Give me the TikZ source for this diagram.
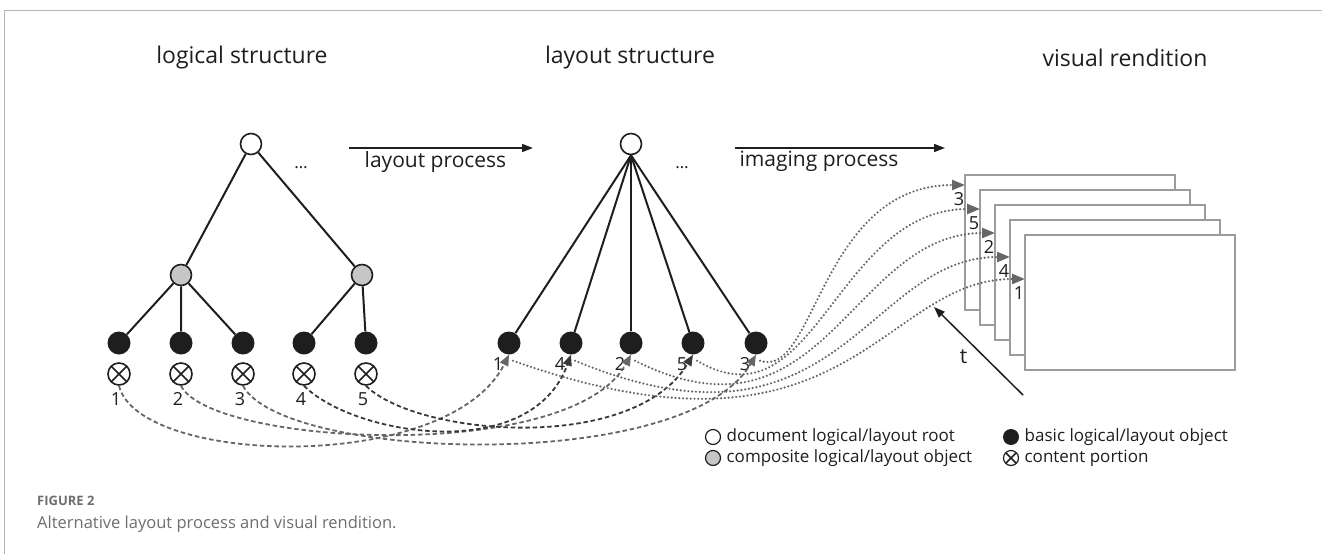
\documentclass[tikz,border=0pt]{standalone}
\usepackage{fontspec}
\setmainfont{Open Sans}
\usepackage{xcolor}
\definecolor{cInk}{HTML}{1E1E1E}
\definecolor{cComp}{HTML}{C6C6C6}
\definecolor{cLink}{HTML}{666666}
\definecolor{cLinkDark}{HTML}{383838}
\definecolor{cPage}{HTML}{9C9C9C}
\definecolor{cFrame}{HTML}{B4B4B4}
\definecolor{cCap}{HTML}{6E6E6E}
\usetikzlibrary{positioning,arrows.meta,calc}
\tikzset{
  node-root/.style={draw=cInk,line width=1.6pt,circle,fill=white,
    minimum size=21pt,inner sep=0pt},
  node-comp/.style={node-root,fill=cComp},
  node-basic/.style={circle,fill=cInk,minimum size=23pt,inner sep=0pt},
  node-content/.style={node-root,minimum size=22pt,
    path picture={\draw[cInk,line width=1.6pt]
      (path picture bounding box.north west) -- (path picture bounding box.south east)
      (path picture bounding box.south west) -- (path picture bounding box.north east);}},
  node-small/.style={minimum size=15pt,line width=1.2pt},
  tree-edge/.style={draw=cInk,line width=2pt},
  arrow/.style={-{Triangle[length=11pt,width=8pt]},line width=1.5pt,draw=cInk},
  arrow-content/.style={-{Triangle[length=11pt,width=9pt]},line width=1.8pt,
    dash pattern=on 4.5pt off 2.8pt,draw=cLink},
  arrow-content-dark/.style={arrow-content,draw=cLinkDark},
  arrow-image/.style={-{Triangle[length=13pt,width=10pt]},line width=2.4pt,
    dash pattern=on 0pt off 3.8pt,line cap=round,draw=cLink},
  page-box/.style={draw=cPage,line width=1.3pt,fill=white,anchor=north west,
    minimum width=210pt,minimum height=135pt,inner sep=0pt,outer sep=0pt},
  title/.style={font=\fontsize{23}{27}\selectfont,text=cInk},
  proc-label/.style={font=\fontsize{21}{24}\selectfont,text=cInk},
  num-label/.style={font=\fontsize{18}{20}\selectfont,text=cInk,inner sep=0pt},
  legend-text/.style={font=\fontsize{17}{20}\selectfont,text=cInk,anchor=west},
  frame-line/.style={draw=cFrame,line width=0.8pt},
}

\begin{document}
\begin{tikzpicture}[x=1pt,y=-1pt]
  \useasboundingbox (0,0) rectangle (1322,554);
  \draw[frame-line] (4,554) -- (4,10) -- (1322,10);

  % headings
  \node[title] (t-logical) at (242,58) {logical structure};
  \node[title] (t-layout)  at (630,58) {layout structure};
  \node[title] (t-visual)  at (1125,58) {visual rendition};

  % logical structure tree
  \node[node-root] (lr)  at (251,144) {};
  \node[node-comp] (lc1) at (181,275) {};
  \node[node-comp] (lc2) at (362,275) {};
  \node[proc-label,font=\fontsize{17}{20}\selectfont] (l-more) at (301,168) {\ldots};
  \foreach \i/\x in {1/119,2/181,3/243,4/304,5/366} {
    \node[node-basic]   (ll\i) at (\x,343) {};
    \node[node-content] (lp\i) at (\x,374) {};
    \node[num-label] at ([xshift=-3pt,yshift=-13pt]lp\i.south) {\i};
  }
  \draw[tree-edge] (lr) -- (lc1) (lr) -- (lc2);
  \draw[tree-edge] (lc1) -- (ll1) (lc1) -- (ll2) (lc1) -- (ll3);
  \draw[tree-edge] (lc2) -- (ll4) (lc2) -- (ll5);

  % layout structure tree
  \node[node-root] (mr) at (631,144) {};
  \node[proc-label,font=\fontsize{17}{20}\selectfont] (m-more) at (682,168) {\ldots};
  \foreach \j/\x/\n in {1/509/1,2/571/4,3/631/2,4/693/5,5/756/3} {
    \node[node-basic] (ml\j) at (\x,343) {};
    \node[num-label] at ([xshift=-11pt,yshift=-9pt]ml\j.south) {\n};
    \draw[tree-edge] (mr.south) -- (ml\j);
  }

  % process arrows
  \coordinate (pa1) at (349,148);
  \coordinate (pa2) at (533,148);
  \draw[arrow] (pa1) -- node[below=-1pt,proc-label,pos=0.47] {layout process} (pa2);
  \coordinate (ia1) at (735,148);
  \coordinate (ia2) at (945,148);
  \draw[arrow] (ia1) -- node[below=-1pt,proc-label,pos=0.4] {imaging process} (ia2);

  % visual rendition pages
  \foreach \k in {1,...,5}
    \node[page-box] (pg\k) at ({965+15*(\k-1)},{175+15*(\k-1)}) {};
  \coordinate (in1) at ([yshift=-10pt]pg1.north west);
  \coordinate (in2) at ([yshift=-19pt]pg2.north west);
  \coordinate (in3) at ([yshift=-28pt]pg3.north west);
  \coordinate (in4) at ([yshift=-37pt]pg4.north west);
  \coordinate (in5) at ([yshift=-44pt]pg5.north west);

  % content portions -> layout objects
  \draw[arrow-content] (lp1.south) .. controls +(20,80) and +(-60,120) .. (ml1.south);
  \draw[arrow-content] (lp2.south) .. controls +(30,60) and +(-60,110) .. (ml3.south);
  \draw[arrow-content] (lp3.south) .. controls +(40,75) and +(-70,120) .. (ml5.south);
  \draw[arrow-content-dark] (lp4.south) .. controls +(50,50) and +(-40,110) .. (ml2.south);
  \draw[arrow-content-dark] (lp5.south) .. controls +(50,50) and +(-60,100) .. (ml4.south);

  % layout objects -> pages
  \draw[arrow-image] ([xshift=4pt,yshift=-6pt]ml5.south) .. controls +(55,20) and +(-145,0) .. (in1);
  \draw[arrow-image] ([xshift=4pt,yshift=-6pt]ml4.south) .. controls +(118,70) and +(-145,0) .. (in2);
  \draw[arrow-image] ([xshift=4pt,yshift=-6pt]ml3.south) .. controls +(190,95) and +(-145,0) .. (in3);
  \draw[arrow-image] ([xshift=4pt,yshift=-6pt]ml2.south) .. controls +(265,110) and +(-145,0) .. (in4);
  \draw[arrow-image] ([xshift=4pt,yshift=-6pt]ml1.south) .. controls +(337,120) and +(-145,0) .. (in5);
  \node[num-label] at ([xshift=-6pt,yshift=-14pt]in1) {3};
  \node[num-label] at ([xshift=-6pt,yshift=-14pt]in2) {5};
  \node[num-label] at ([xshift=-6pt,yshift=-14pt]in3) {2};
  \node[num-label] at ([xshift=-6pt,yshift=-14pt]in4) {4};
  \node[num-label] at ([xshift=-6pt,yshift=-14pt]in5) {1};

  % time axis
  \coordinate (t-tail) at (1023,395);
  \coordinate (t-head) at (934,307);
  \draw[arrow] (t-tail) -- (t-head);
  \node[proc-label] (t-label) at ($(t-tail)!0.5!(t-head)+(-15,6)$) {t};

  % legend
  \node[node-root,node-small] (lg-root) at (713,437) {};
  \node[legend-text,right=2pt of lg-root] {document logical/layout root};
  \node[node-comp,node-small] (lg-comp) at (713,458) {};
  \node[legend-text,right=2pt of lg-comp] {composite logical/layout object};
  \node[node-basic,minimum size=16pt] (lg-basic) at (1011,437) {};
  \node[legend-text,right=2pt of lg-basic] {basic logical/layout object};
  \node[node-content,node-small] (lg-content) at (1011,458) {};
  \node[legend-text,right=2pt of lg-content] {content portion};

  % caption
  \node[anchor=base west,inner sep=0pt,text=cCap,font=\fontsize{13}{15}\selectfont\bfseries]
    (cap-no) at (37,505) {FIGURE 2};
  \node[anchor=base west,inner sep=0pt,text=cCap,font=\fontsize{16.5}{19}\selectfont]
    (cap-text) at (37,528) {Alternative layout process and visual rendition.};
\end{tikzpicture}
\end{document}
